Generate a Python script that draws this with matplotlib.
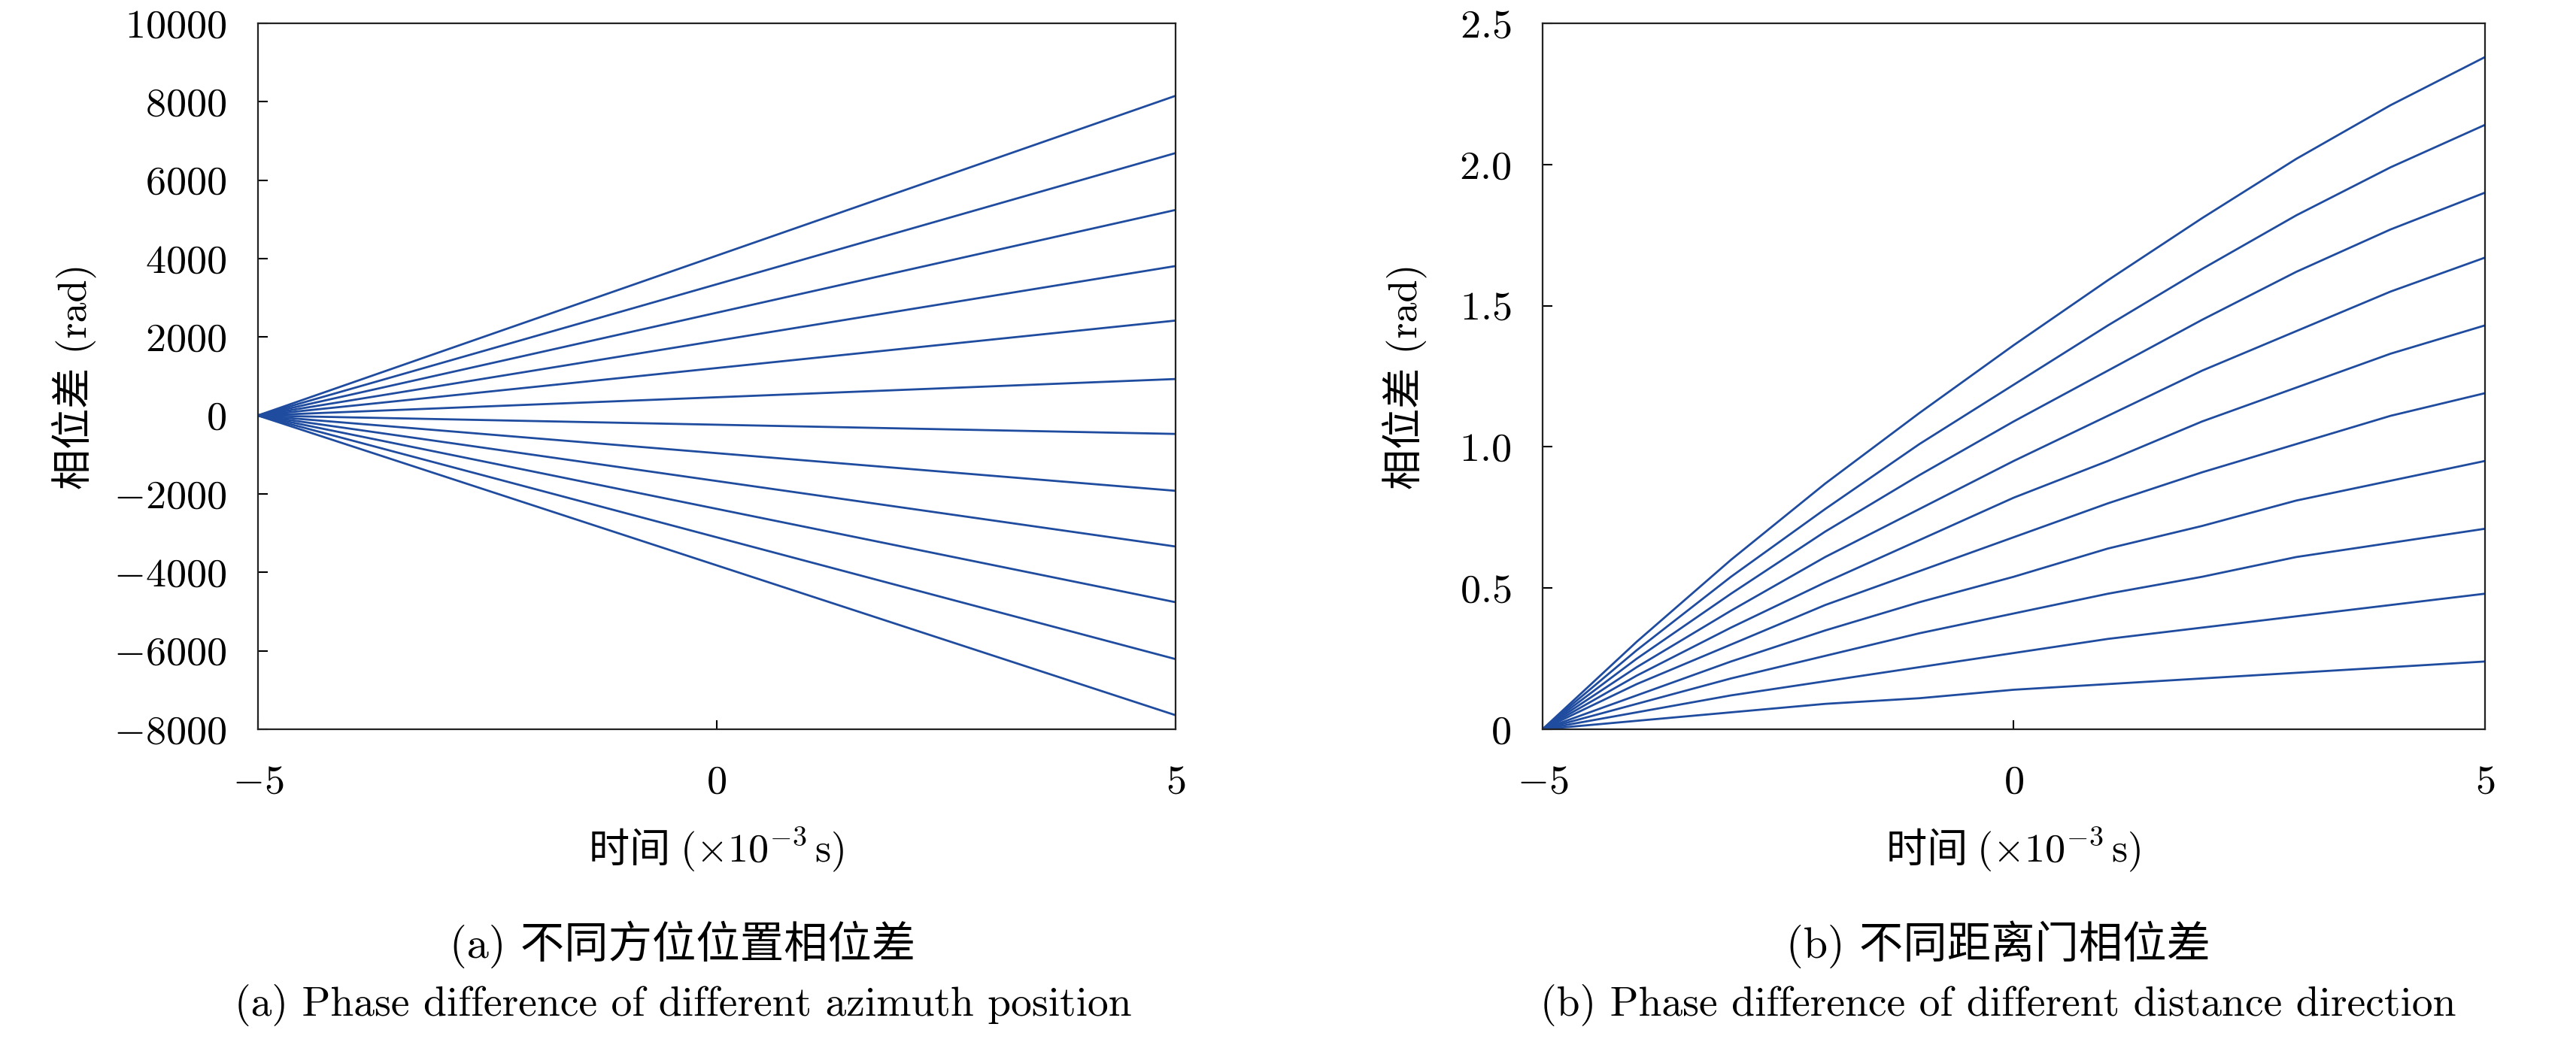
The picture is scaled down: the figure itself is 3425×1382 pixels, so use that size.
import numpy as np
import matplotlib
matplotlib.use("Agg")
import matplotlib.pyplot as plt
from matplotlib.offsetbox import TextArea, HPacker, AnnotationBbox

plt.rcParams['font.family'] = ['cmr10', 'Noto Sans CJK SC', 'DejaVu Sans']
plt.rcParams['mathtext.fontset'] = 'cm'
plt.rcParams['axes.formatter.use_mathtext'] = True
plt.rcParams['axes.unicode_minus'] = True

# (a) 不同方位位置: straight lines from t=-5 to t=5 (x10^-3 s)
t_a = [-5, 5]
end_a = [8150, 6690, 5240, 3810, 2420, 930, -470, -1920, -3340, -4760, -6210, -7640]

# (b) 不同距离门: curves read at t=-5..5 step 1
t_b = [-5, -4, -3, -2, -1, 0, 1, 2, 3, 4, 5]
curves_b = [
    [0, 0.31, 0.60, 0.87, 1.12, 1.36, 1.59, 1.81, 2.02, 2.21, 2.38],
    [0, 0.28, 0.54, 0.78, 1.01, 1.22, 1.43, 1.63, 1.82, 1.99, 2.14],
    [0, 0.25, 0.48, 0.70, 0.90, 1.09, 1.27, 1.45, 1.62, 1.77, 1.90],
    [0, 0.22, 0.42, 0.61, 0.78, 0.95, 1.11, 1.27, 1.41, 1.55, 1.67],
    [0, 0.19, 0.36, 0.52, 0.67, 0.82, 0.95, 1.09, 1.21, 1.33, 1.43],
    [0, 0.16, 0.30, 0.44, 0.56, 0.68, 0.80, 0.91, 1.01, 1.11, 1.19],
    [0, 0.12, 0.24, 0.35, 0.45, 0.54, 0.64, 0.72, 0.81, 0.88, 0.95],
    [0, 0.09, 0.18, 0.26, 0.34, 0.41, 0.48, 0.54, 0.61, 0.66, 0.71],
    [0, 0.06, 0.12, 0.17, 0.22, 0.27, 0.32, 0.36, 0.40, 0.44, 0.48],
    [0, 0.03, 0.06, 0.09, 0.11, 0.14, 0.16, 0.18, 0.20, 0.22, 0.24],
]

xticks = [-5, 0, 5]
yticks_a = [-8000, -6000, -4000, -2000, 0, 2000, 4000, 6000, 8000, 10000]
yticks_b = [0, 0.5, 1.0, 1.5, 2.0, 2.5]
ylabels_b = ['$0$', '$0.5$', '$1.0$', '$1.5$', '$2.0$', '$2.5$']

col = '#1f4c9f'
fs = 39

fig = plt.figure(figsize=(34.25, 13.82), dpi=100)
ax1 = fig.add_axes([0.1001, 0.2981, 0.3562, 0.6795])
ax2 = fig.add_axes([0.5988, 0.2981, 0.3658, 0.6795])

for e in end_a:
    ax1.plot(t_a, [0, e], color=col, lw=2.0)
for c in curves_b:
    ax2.plot(t_b, c, color=col, lw=2.0)


def xlabel_box(ax):
    # Chinese part and math part as separate texts so both fonts render
    zh = TextArea('时间 ', textprops=dict(fontsize=fs, family='Noto Sans CJK SC'))
    en = TextArea('($\\times10^{-3}\\,$s)', textprops=dict(fontsize=fs))
    box = HPacker(children=[zh, en], align='baseline', pad=0, sep=0)
    ab = AnnotationBbox(box, (0.5, -0.171), xycoords='axes fraction',
                        box_alignment=(0.5, 0.5), frameon=False, annotation_clip=False)
    ax.add_artist(ab)


for ax in (ax1, ax2):
    ax.set_xlim(-5, 5)
    ax.set_xticks(xticks)
    ax.tick_params(direction='in', length=9, width=1.5, labelsize=fs, pad=34,
                   top=False, right=False)
    ax.tick_params(axis='y', pad=30)
    for s in ax.spines.values():
        s.set_linewidth(1.6)
        s.set_color('#222222')
    xlabel_box(ax)
    ax.set_ylabel('相位差 (rad)', fontsize=fs)
    ax.yaxis.label.set_va('center')

ax1.set_ylim(-8000, 10000)
ax1.set_yticks(yticks_a)
ax1.yaxis.set_label_coords(-0.201, 0.5)

ax2.set_ylim(0, 2.5)
ax2.set_yticks(yticks_b)
ax2.set_yticklabels(ylabels_b)
ax2.yaxis.set_label_coords(-0.147, 0.5)

fig.text(0.2651, 0.0912, '(a) 不同方位位置相位差', fontsize=42, ha='center', va='center')
fig.text(0.2651, 0.0326, '(a) Phase difference of different azimuth position', fontsize=40, ha='center', va='center')
fig.text(0.7758, 0.0912, '(b) 不同距离门相位差', fontsize=42, ha='center', va='center')
fig.text(0.7758, 0.0326, '(b) Phase difference of different distance direction', fontsize=40, ha='center', va='center')

fig.savefig('out.png', dpi=100)
